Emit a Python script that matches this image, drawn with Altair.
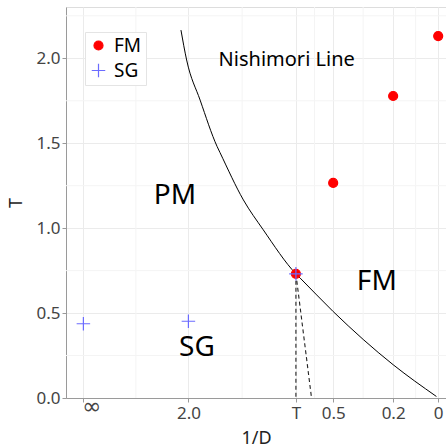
import altair as alt
import pandas as pd

# Horizontal coordinate: position along the 1/D axis (0 = infinity, 1 = zero)
tick_pos = [0.0, 0.296, 0.599, 0.704, 0.873, 1.0]
tick_lab = ["∞", "2.0", "T", "0.5", "0.2", "0"]

# Nishimori line
curve_x = [0.275, 0.291, 0.329, 0.377, 0.385, 0.451, 0.507, 0.599, 0.611, 0.704, 0.873, 0.995]
curve_y = [2.166, 1.990, 1.754, 1.480, 1.445, 1.166, 0.990, 0.731, 0.706, 0.509, 0.196, 0.009]

# Boundaries below the Nishimori point (dashed)
dash_x = [0.599, 0.599, 0.599, 0.643]
dash_y = [0.731, 0.0, 0.731, 0.0]
dash_id = ["a", "a", "b", "b"]

# Transition points
fm_x = [0.599, 0.704, 0.873, 1.0]
fm_y = [0.731, 1.266, 1.778, 2.131]
sg_x = [0.0, 0.296, 0.599]
sg_y = [0.437, 0.452, 0.731]

# Phase labels
lab_text = ["PM", "FM", "SG"]
lab_x = [0.258, 0.827, 0.320]
lab_y = [1.19, 0.684, 0.296]

XDOM = [-0.049, 1.022]
YDOM = [0.0, 2.302]
FONT = "Noto Sans"

x_minor = [(a + b) / 2 for a, b in zip(tick_pos[:-1], tick_pos[1:])]
y_minor = [0.25, 0.75, 1.25, 1.75, 2.25]

expr = "''"
for p, l in reversed(list(zip(tick_pos, tick_lab))):
    expr = f"abs(datum.value - {p}) < 0.01 ? '{l}' : ({expr})"

inf_test = f"abs(datum.value - {tick_pos[0]}) < 0.01"

xs = alt.Scale(domain=XDOM, nice=False, zero=False)
ys = alt.Scale(domain=YDOM, nice=False, zero=False)

xaxis = alt.Axis(values=tick_pos, labelExpr=expr, title="1/D", grid=True,
                 gridColor="#ebebeb", domainColor="#9a9a9a", tickColor="#9a9a9a",
                 tickSize=4, labelColor="#444444",
                 labelFontSize={"condition": {"test": inf_test, "value": 23}, "value": 17},
                 labelFont={"condition": {"test": inf_test, "value": "DejaVu Sans"}, "value": FONT},
                 labelAlign={"condition": {"test": inf_test, "value": "left"}, "value": "center"},
                 labelBaseline={"condition": {"test": inf_test, "value": "middle"}, "value": "top"},
                 labelPadding={"condition": {"test": inf_test, "value": 4}, "value": 3},
                 labelOffset={"condition": {"test": inf_test, "value": -2}, "value": 0},
                 titleFont=FONT, titleFontSize=18,
                 titleFontWeight="normal", titleColor="#222222", titlePadding=8)
yaxis = alt.Axis(values=[0, 0.5, 1.0, 1.5, 2.0], format=".1f", title="T", grid=True,
                 gridColor="#ebebeb", domainColor="#9a9a9a", tickColor="#9a9a9a",
                 tickSize=4, labelFontSize=17, labelColor="#444444", labelFont=FONT,
                 labelPadding=2, titleFont=FONT, titleFontSize=18,
                 titleFontWeight="normal", titleColor="#222222", titlePadding=10)

base_frame = alt.Chart(pd.DataFrame({"x": tick_pos, "y": [0] * len(tick_pos)})).mark_point(
    opacity=0).encode(x=alt.X("x:Q", scale=xs, axis=xaxis), y=alt.Y("y:Q", scale=ys, axis=yaxis))

minor_v = alt.Chart(pd.DataFrame({"x": x_minor})).mark_rule(
    color="#f4f4f4", strokeWidth=1).encode(x=alt.X("x:Q", scale=xs))
minor_h = alt.Chart(pd.DataFrame({"y": y_minor})).mark_rule(
    color="#f4f4f4", strokeWidth=1).encode(y=alt.Y("y:Q", scale=ys))

curve = alt.Chart(pd.DataFrame({"x": curve_x, "y": curve_y, "o": range(len(curve_x))})).mark_line(
    color="black", strokeWidth=1.0, interpolate="monotone").encode(
    x=alt.X("x:Q", scale=xs), y=alt.Y("y:Q", scale=ys), order="o:Q")

dashes = alt.Chart(pd.DataFrame({"x": dash_x, "y": dash_y, "g": dash_id})).mark_line(
    color="#222222", strokeWidth=1.1, strokeDash=[4, 3]).encode(
    x=alt.X("x:Q", scale=xs), y=alt.Y("y:Q", scale=ys), detail="g:N")

pts = pd.DataFrame({
    "x": fm_x + sg_x,
    "y": fm_y + sg_y,
    "series": ["FM"] * len(fm_x) + ["SG"] * len(sg_x),
})
dom = ["FM", "SG"]
leg = alt.Legend(title=None, orient="none", legendX=19, legendY=25, padding=4,
                 strokeColor="#e4e4e4", fillColor="white", labelFont=FONT,
                 labelFontSize=19, labelColor="black", symbolSize=81,
                 rowPadding=5, labelOffset=6, symbolStrokeWidth=1.2)
points = alt.Chart(pts).mark_point(size=81, strokeWidth=1.2, opacity=1).encode(
    x=alt.X("x:Q", scale=xs), y=alt.Y("y:Q", scale=ys),
    shape=alt.Shape("series:N", scale=alt.Scale(
        domain=dom, range=["circle", "M-1.5,0L1.5,0M0,-1.5L0,1.5"]), legend=leg),
    fill=alt.Fill("series:N", scale=alt.Scale(domain=dom, range=["red", "transparent"]), legend=leg),
    stroke=alt.Stroke("series:N", scale=alt.Scale(domain=dom, range=["red", "#6b6bff"]), legend=leg),
)

phase_labels = alt.Chart(pd.DataFrame({"x": lab_x, "y": lab_y, "t": lab_text})).mark_text(
    font=FONT, fontSize=28, color="black").encode(
    x=alt.X("x:Q", scale=xs), y=alt.Y("y:Q", scale=ys), text="t:N")

line_label = alt.Chart(pd.DataFrame({"x": [0.573], "y": [1.99], "t": ["Nishimori Line"]})).mark_text(
    font=FONT, fontSize=20, color="black").encode(
    x=alt.X("x:Q", scale=xs), y=alt.Y("y:Q", scale=ys), text="t:N")

chart = alt.layer(base_frame, minor_v, minor_h, curve, dashes, points, phase_labels, line_label).properties(
    width=380, height=391,
    autosize=alt.AutoSizeParams(type="none"),
    padding={"left": 66, "top": 7, "right": 0, "bottom": 49},
).configure_view(stroke=None).configure(background="white")

chart.save("out.html", embed_options={"renderer": "svg", "actions": False})
